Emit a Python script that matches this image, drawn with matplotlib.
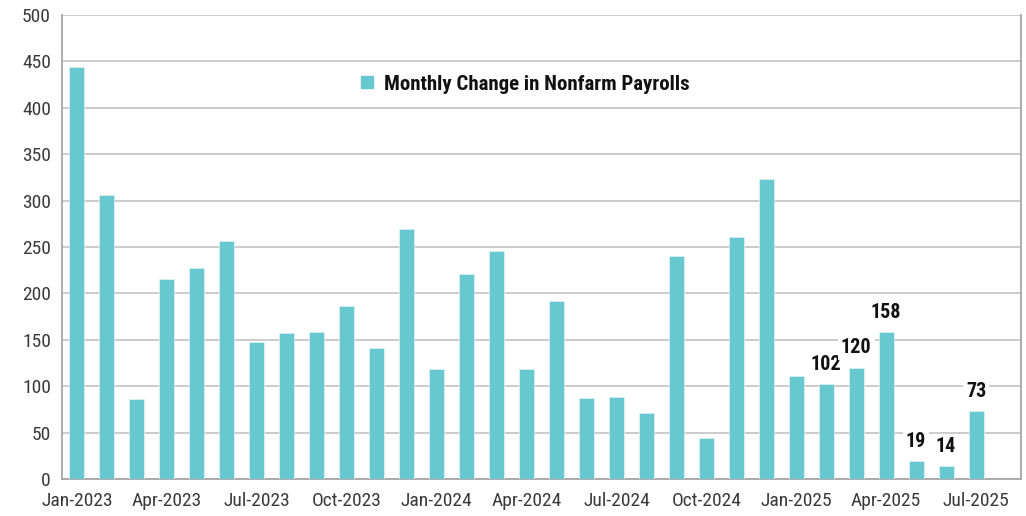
import matplotlib
matplotlib.use("Agg")
import matplotlib.pyplot as plt
from matplotlib import font_manager as fm
from matplotlib.lines import Line2D

months = ["Jan-2023", "Feb-2023", "Mar-2023", "Apr-2023", "May-2023", "Jun-2023",
          "Jul-2023", "Aug-2023", "Sep-2023", "Oct-2023", "Nov-2023", "Dec-2023",
          "Jan-2024", "Feb-2024", "Mar-2024", "Apr-2024", "May-2024", "Jun-2024",
          "Jul-2024", "Aug-2024", "Sep-2024", "Oct-2024", "Nov-2024", "Dec-2024",
          "Jan-2025", "Feb-2025", "Mar-2025", "Apr-2025", "May-2025", "Jun-2025",
          "Jul-2025"]
payrolls = [444, 306, 86, 216, 227, 257, 148, 157, 158, 186, 141, 269,
            119, 221, 246, 118, 192, 87, 88, 71, 240, 44, 261, 323,
            111, 102, 120, 158, 19, 14, 73]
labeled_months = ["Feb-2025", "Mar-2025", "Apr-2025", "May-2025", "Jun-2025", "Jul-2025"]
series_name = "Monthly Change in Nonfarm Payrolls"
yticks = [0, 50, 100, 150, 200, 250, 300, 350, 400, 450, 500]

available = {f.name for f in fm.fontManager.ttflist}
family = []
for cand in ["Liberation Sans Narrow", "Arial Narrow", "Roboto Condensed", "Liberation Sans"]:
    if cand in available:
        family.append(cand)
family.append("DejaVu Sans")
plt.rcParams['font.family'] = family

bar_color = "#67C8D0"
grid_color = "#C8C8C8"
spine_color = "#A6A6A6"
text_color = "#3A3A3A"

fig = plt.figure(figsize=(10.26, 5.16), dpi=100)
ax = fig.add_axes([62/1026, 1 - 479/516, (1021-62)/1026, (479-15)/516])

x = list(range(len(months)))
ax.bar(x, payrolls, width=0.5, color=bar_color, edgecolor="#D8F0F2", linewidth=0.6, zorder=3)

ax.set_xlim(-0.5, 31.5)
ax.set_ylim(0, 500)
ax.set_yticks(yticks)
ax.set_yticklabels([str(v) for v in yticks], fontsize=14, color=text_color)
ax.yaxis.grid(True, color=grid_color, linewidth=1.3, zorder=0)
ax.set_axisbelow(True)

ax.set_xticks(x[::3])
ax.set_xticklabels(months[::3], fontsize=14, color=text_color)
ax.tick_params(axis='both', length=0)
ax.tick_params(axis='x', pad=9)
ax.tick_params(axis='y', pad=8)

for s in ["left", "right", "bottom"]:
    ax.spines[s].set_color(spine_color)
    ax.spines[s].set_linewidth(1.3)
ax.spines["top"].set_visible(False)

for m in labeled_months:
    i = months.index(m)
    ax.annotate(str(payrolls[i]), (i, payrolls[i]), xytext=(0, 7.5), textcoords="offset points",
                ha="center", va="bottom", fontsize=14.5, fontweight="bold", color="#111111",
                bbox=dict(boxstyle="square,pad=0.15", fc="white", ec="none"), zorder=5)

handle = Line2D([], [], marker="s", linestyle="none", markersize=9, color=bar_color)
leg = ax.legend([handle], [series_name], loc="center", bbox_to_anchor=(0.481, 0.851),
                frameon=False, prop=dict(size=15, weight="bold"), handletextpad=0.3,
                handlelength=1.0)
for t in leg.get_texts():
    t.set_color("#111111")

fig.savefig("out.png", dpi=100)
